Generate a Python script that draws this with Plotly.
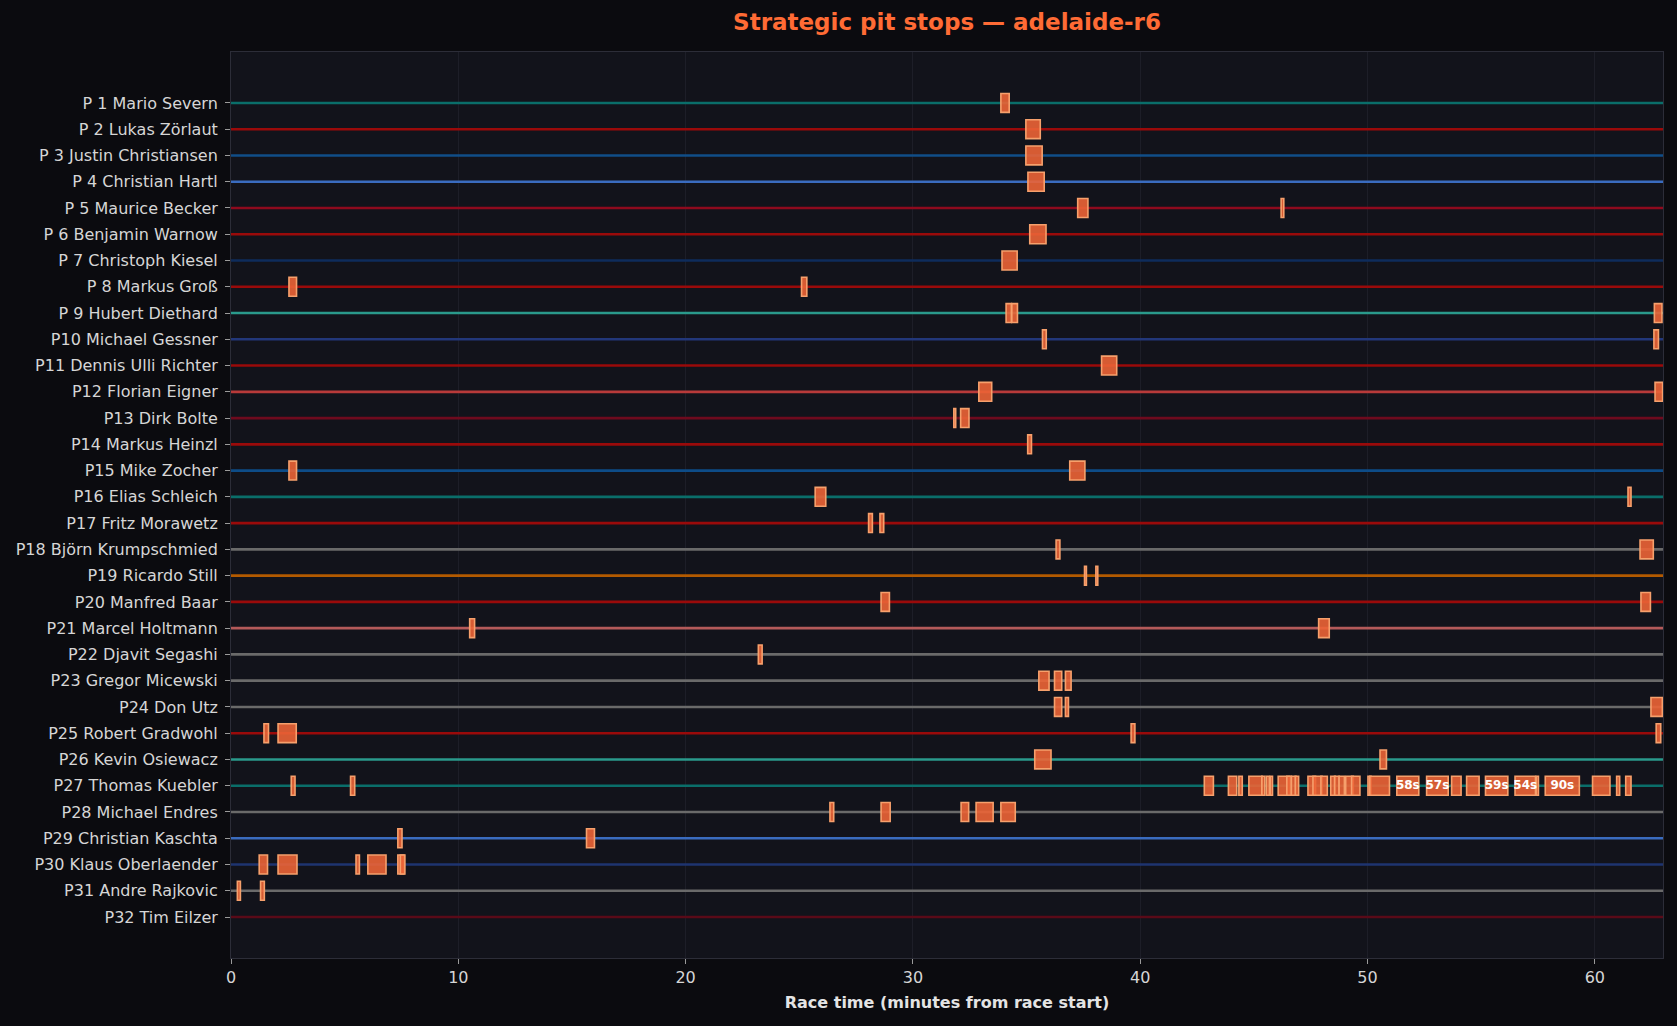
import plotly.graph_objects as go

RACE_NAME = "adelaide-r6"
RACE_END_MIN = 63.0

DRIVERS = [
    "P 1 Mario Severn", "P 2 Lukas Zörlaut", "P 3 Justin Christiansen", "P 4 Christian Hartl",
    "P 5 Maurice Becker", "P 6 Benjamin Warnow", "P 7 Christoph Kiesel", "P 8 Markus Groß",
    "P 9 Hubert Diethard", "P10 Michael Gessner", "P11 Dennis Ulli Richter", "P12 Florian Eigner",
    "P13 Dirk Bolte", "P14 Markus Heinzl", "P15 Mike Zocher", "P16 Elias Schleich",
    "P17 Fritz Morawetz", "P18 Björn Krumpschmied", "P19 Ricardo Still", "P20 Manfred Baar",
    "P21 Marcel Holtmann", "P22 Djavit Segashi", "P23 Gregor Micewski", "P24 Don Utz",
    "P25 Robert Gradwohl", "P26 Kevin Osiewacz", "P27 Thomas Kuebler", "P28 Michael Endres",
    "P29 Christian Kaschta", "P30 Klaus Oberlaender", "P31 Andre Rajkovic", "P32 Tim Eilzer",
]

TEAM_COLORS = [
    "#0a6e6a", "#9a0a0a", "#104e88", "#3a6cc0", "#8e0a1e", "#9a0a0a", "#0e2c5c", "#9a0a0a",
    "#2a9a8c", "#22377a", "#9a0a0a", "#b83a3a", "#6e0a1e", "#9a0a0a", "#0d4c88", "#0a6e6a",
    "#9a0a0a", "#6a6a6a", "#b35a00", "#9a0a0a", "#b45a5a", "#6a6a6a", "#6a6a6a", "#6a6a6a",
    "#9a0a0a", "#2a9a8c", "#0a6e6a", "#6a6a6a", "#3a6cc0", "#1e3470", "#6a6a6a", "#5a0a18",
]

# pit stops: driver position, entry time (min from start), stationary seconds
STOP_POS = [
    1, 2, 3, 4, 5, 5, 6, 7, 8, 8,
    9, 9, 9, 10, 10, 11, 12, 12, 13, 13,
    14, 15, 15, 16, 16, 17, 17, 18, 18, 19,
    19, 20, 20, 21, 21, 22, 23, 23, 23, 24,
    24, 24, 25, 25, 25, 25, 26, 26,
    27, 27, 27, 27, 27, 27, 27, 27, 27, 27,
    27, 27, 27, 27, 27, 27, 27, 27, 27, 27,
    27, 27, 27, 27, 27, 27, 27, 27, 27, 27,
    27, 27, 27, 27,
    28, 28, 28, 28, 28, 29, 29,
    30, 30, 30, 30, 30, 30, 31, 31,
]
STOP_T = [
    33.87, 34.97, 34.97, 35.06, 37.25, 46.20, 35.14, 33.92, 2.55, 25.10,
    34.10, 34.35, 62.62, 35.70, 62.60, 38.30, 32.90, 62.65, 31.80, 32.10,
    35.05, 2.55, 36.90, 25.70, 61.46, 28.05, 28.55, 36.30, 61.99, 37.55,
    38.05, 28.60, 62.03, 10.50, 47.85, 23.20, 35.54, 36.23, 36.71, 36.23,
    36.71, 62.47, 1.45, 2.07, 39.60, 62.70, 35.36, 50.55,
    2.65, 5.26, 42.82, 43.88, 44.34, 44.78, 45.35, 45.55, 45.72, 46.07,
    46.45, 46.65, 46.82, 47.38, 47.60, 47.95, 48.38, 48.55, 48.75, 49.04,
    49.30, 50.02, 50.10, 51.29, 52.60, 53.70, 54.36, 55.19, 56.49, 57.42,
    57.82, 59.90, 60.96, 61.36,
    26.35, 28.60, 32.12, 32.78, 33.87, 7.34, 15.64,
    1.24, 2.07, 5.50, 6.02, 7.34, 7.45, 0.28, 1.30,
]
STOP_S = [
    22, 38, 43, 43, 27, 7, 43, 40, 20, 14,
    14, 15, 20, 10, 12, 40, 34, 20, 5, 22,
    10, 20, 40, 28, 8, 10, 10, 10, 35, 5,
    5, 22, 25, 13, 28, 10, 27, 19, 15, 19,
    8, 30, 12, 48, 10, 12, 43, 17,
    10, 11, 24, 22, 9, 35, 8, 8, 6, 30,
    12, 12, 9, 20, 24, 17, 12, 12, 14, 20,
    22, 8, 52, 58, 57, 25, 33, 59, 54, 6,
    90, 46, 8, 14,
    10, 24, 20, 45, 38, 11, 21,
    22, 50, 9, 48, 16, 12, 8, 10,
]

LABEL_MIN_S = 54

fig = go.Figure()

# lane per driver in team colour (thin bar so the stops sit on top of it)
fig.add_trace(go.Bar(
    orientation="h", y=DRIVERS, x=[RACE_END_MIN] * len(DRIVERS), base=0, width=0.1,
    marker=dict(color=TEAM_COLORS, line=dict(width=0)),
    hoverinfo="skip", showlegend=False,
))

stop_names = [DRIVERS[p - 1] for p in STOP_POS]
stop_len = [s / 60 for s in STOP_S]

fig.add_trace(go.Bar(
    orientation="h", y=stop_names, x=stop_len, base=STOP_T, width=0.72,
    marker=dict(color="rgba(236,100,54,0.9)", line=dict(color="#f6a06c", width=1.6)),
    customdata=STOP_S,
    hovertemplate="%{y}<br>%{base:.2f} min, %{customdata}s<extra></extra>",
    showlegend=False,
))

# duration labels for the long stops
lab = [(n, t + d / 2, s) for n, t, d, s in zip(stop_names, STOP_T, stop_len, STOP_S) if s >= LABEL_MIN_S]
fig.add_trace(go.Scatter(
    x=[l[1] for l in lab], y=[l[0] for l in lab], mode="text",
    text=["<b>%ds</b>" % l[2] for l in lab],
    textfont=dict(family="DejaVu Sans", size=12, color="white"),
    hoverinfo="skip", showlegend=False,
))

fig.update_layout(
    width=1677, height=1026,
    paper_bgcolor="#0b0b0f", plot_bgcolor="#12131b",
    margin=dict(l=231, r=14, t=52, b=68, pad=0),
    barmode="overlay",
    font=dict(family="DejaVu Sans", color="#d6d6d6", size=16),
    title=dict(
        text="Strategic pit stops — " + RACE_NAME,
        x=947 / 1677, xanchor="center", xref="container",
        y=1 - 22 / 1026, yanchor="middle", yref="container",
        font=dict(family="DejaVu Sans", size=23, color="#ff6b35", weight="bold"),
    ),
)

fig.update_xaxes(
    range=[0, RACE_END_MIN], dtick=10, tick0=0,
    showgrid=True, gridcolor="#1d1e28", gridwidth=1, zeroline=False,
    showline=True, linecolor="#2c2d38", linewidth=1, mirror=True,
    ticks="outside", ticklen=5, tickcolor="#9a9a9a",
    tickfont=dict(size=16, color="#d6d6d6"),
    title=dict(text="Race time (minutes from race start)", standoff=10,
               font=dict(size=16, color="#e4e4e4", weight="bold")),
)

fig.update_yaxes(
    type="category", categoryorder="array", categoryarray=DRIVERS,
    range=[len(DRIVERS) - 1 + 1.56, -1.94],
    showgrid=False, zeroline=False,
    showline=True, linecolor="#2c2d38", linewidth=1, mirror=True,
    ticks="outside", ticklen=5, tickcolor="#9a9a9a", ticklabelstandoff=4,
    tickfont=dict(size=16, color="#d6d6d6"),
)

fig.write_html(
    "out.html",
    config={"displayModeBar": False},
    post_script="document.body.style.margin='0';document.body.style.background='#0b0b0f';",
)
